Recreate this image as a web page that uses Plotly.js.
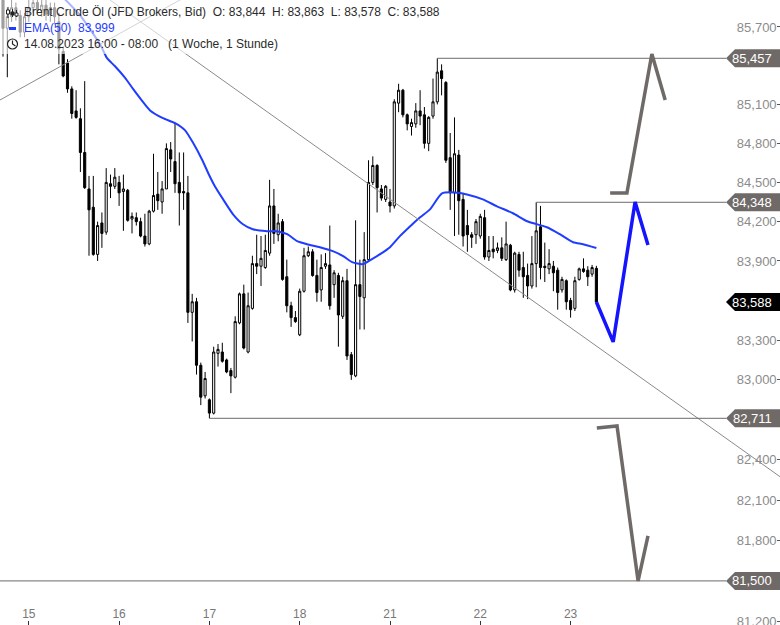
<!DOCTYPE html>
<html>
<head>
<meta charset="utf-8">
<script src="https://cdn.plot.ly/plotly-3.0.1.min.js"></script>
<style>
html,body{margin:0;padding:0;background:#fff;}
#chart{width:780px;height:625px;}
</style>
</head>
<body>
<div id="chart"></div>
<script>
// ---------- DATA ----------
const opens = [85.97,85.69,85.78,85.85,85.79,85.66,85.78,85.85,85.89,85.83,
85.87,85.80,85.85,85.74,85.51,85.42,85.22,85.05,84.99,84.73,
84.45,84.31,83.95,84.19,84.12,84.49,84.47,84.50,84.43,84.44,
84.22,84.23,84.20,84.09,84.03,84.28,84.41,84.35,84.45,84.75,
84.66,84.50,84.43,84.42,83.51,83.59,83.11,82.88,82.85,82.75,
83.20,83.21,83.15,83.07,83.02,83.43,83.65,83.21,83.54,83.88,
83.86,83.85,83.96,84.32,84.10,84.20,83.78,83.56,83.47,83.34,
83.67,83.94,83.97,83.79,83.68,83.86,83.87,83.72,83.79,83.48,
83.75,83.19,83.03,83.72,83.62,83.91,84.50,84.63,84.45,84.37,
84.35,84.32,85.11,85.21,85.02,84.93,84.95,85.05,85.02,84.80,
85.01,85.12,85.36,85.27,84.69,84.42,84.71,84.37,84.17,84.10,
84.10,84.09,84.23,83.93,83.99,83.98,84.00,83.91,84.02,83.68,
83.95,83.85,83.79,83.71,83.88,84.16,83.86,83.84,83.86,83.83,
83.68,83.75,83.60,83.54,83.76,83.84,83.83,83.80,83.844];
const highs = [86.08,85.85,85.93,85.89,85.83,85.81,85.91,85.95,85.93,85.91,
85.91,85.89,85.89,85.81,85.55,85.45,85.24,85.21,85.07,85.28,
84.55,84.55,84.20,84.27,84.61,84.56,84.61,84.55,84.56,84.45,
84.27,84.27,84.23,84.26,84.29,84.72,84.58,84.51,84.80,84.81,
84.96,84.73,84.73,84.55,83.65,83.62,83.13,83.06,82.86,83.25,
83.27,83.28,83.16,83.09,83.48,83.66,83.72,83.66,83.94,84.10,
84.09,84.10,84.52,84.45,84.26,84.22,83.91,83.59,83.52,83.69,
84.00,84.01,83.99,83.91,83.95,83.96,84.17,83.83,83.81,83.78,
83.84,83.21,84.21,83.91,84.12,84.67,84.70,84.64,84.48,84.48,
84.45,85.14,85.26,85.22,85.03,84.99,85.11,85.21,85.08,85.01,
85.30,85.457,85.41,85.28,84.88,85.00,84.75,84.42,84.29,84.12,
84.22,84.26,84.29,84.09,84.09,84.04,84.08,84.20,84.03,83.97,
83.97,83.97,83.88,84.09,84.348,84.32,84.04,83.99,83.90,83.85,
83.78,83.76,83.62,83.78,83.85,83.92,83.86,83.87,83.863];
const lows = [85.47,85.31,85.74,85.75,85.62,85.62,85.74,85.81,85.80,85.78,
85.75,85.74,85.72,85.41,85.31,85.19,84.99,84.99,84.58,84.45,
83.94,83.94,83.90,84.00,84.10,84.38,84.45,84.32,84.13,84.20,
84.11,84.17,84.08,84.01,84.02,84.27,84.29,84.26,84.45,84.58,
84.42,84.17,84.29,83.43,83.29,83.04,82.81,82.86,82.711,82.74,
83.10,83.13,83.05,82.90,83.01,83.42,83.23,83.20,83.53,83.80,
83.71,83.84,83.94,84.03,84.05,83.75,83.51,83.40,83.43,83.33,
83.66,83.93,83.78,83.59,83.59,83.84,83.53,83.62,83.25,83.46,
83.15,83.00,83.02,83.38,83.38,83.90,84.48,84.27,84.36,84.35,
84.27,84.30,85.04,85.00,84.90,84.86,84.92,84.94,84.76,84.74,
84.99,85.10,85.17,84.65,84.29,84.09,84.10,84.01,83.97,84.00,
84.03,84.07,83.91,83.90,83.92,83.96,83.90,83.90,83.67,83.66,
83.78,83.62,83.61,83.69,83.70,83.76,83.74,83.80,83.67,83.53,
83.66,83.53,83.47,83.52,83.75,83.81,83.71,83.78,83.578];
const closes = [85.69,85.78,85.85,85.80,85.66,85.78,85.85,85.89,85.83,85.87,
85.80,85.85,85.78,85.53,85.32,85.22,85.03,85.00,84.73,84.46,
84.29,83.95,84.17,84.11,84.50,84.47,84.54,84.42,84.45,84.21,
84.24,84.20,84.09,84.03,84.28,84.40,84.36,84.45,84.76,84.68,
84.49,84.42,84.42,83.51,83.59,83.11,82.87,83.01,82.75,83.21,
83.23,83.14,83.06,83.03,83.44,83.65,83.24,83.56,83.88,83.86,
83.92,83.98,84.32,84.11,84.19,83.76,83.56,83.47,83.44,83.67,
83.94,83.97,83.79,83.66,83.85,83.88,83.56,83.81,83.49,83.75,
83.18,83.04,83.72,83.63,83.91,84.50,84.63,84.46,84.38,84.47,
84.32,85.12,85.21,85.02,84.95,84.96,85.05,85.01,84.80,85.00,
85.12,85.35,85.30,84.67,84.42,84.72,84.36,84.09,84.10,84.08,
84.20,84.24,83.93,83.98,83.97,84.00,83.92,84.03,83.68,83.96,
83.83,83.78,83.71,83.88,84.13,83.85,83.85,83.88,83.81,83.66,
83.76,83.59,83.53,83.75,83.84,83.82,83.78,83.85,83.588];

// EMA(50) (bar index, value)
const emaIdx = [14,17.9,22.6,24.2,26,28.4,30.2,32.3,34.2,37.2,40,42.3,44.2,46.3,48.1,49.3,51.2,53.5,55.8,58.1,
61.4,63.7,66.1,68.4,70.7,73.7,76.7,79.1,81.2,83.7,85.8,87.7,90,92.3,94.7,97,99.3,102.1,105.1,107.9,
111.6,114.9,118.6,121.9,126.5,129.5,132.6,134.9,138];
const emaVal = [85.929,85.792,85.564,85.458,85.397,85.305,85.222,85.130,85.054,84.994,84.956,84.902,84.804,84.674,84.545,84.469,84.370,84.256,84.180,84.142,
84.127,84.127,84.104,84.051,84.028,84.005,83.975,83.937,83.891,83.876,83.914,83.952,84.005,84.089,84.165,84.233,84.294,84.416,84.423,84.408,
84.370,84.317,84.264,84.203,84.157,84.104,84.043,84.028,83.999];

// day tick labels
const dayTickIdx = [6,27,48,69,90,111,132];
const dayLabels = ['15','16','17','18','21','22','23'];

// price-axis ticks (log scale; ticks hidden under the price tags are left out)
const priceTicks = [81.2,81.8,82.1,82.4,83.0,83.3,83.9,84.2,84.5,84.8,85.1,85.7];

// horizontal levels (start bar index; null = from left edge)
const levelVals = [85.457, 84.348, 82.711, 81.500];
const levelStart = [101, 124, 48, null];

// right-hand price tags
const tagVals = [85.457, 84.348, 83.588, 82.711, 81.500];
const tagDark = [false, false, true, false, false];

// trend lines (bar index, value)
const trendUpIdx = [-5, 60], trendUpVal = [85.055, 86.262];
const trendDnIdx = [20, 185], trendDnVal = [86.027, 82.176];

// forecast zig-zags
const fcGrayUpIdx = [141.2,145.1,150.9,154.0], fcGrayUpVal = [84.419,84.419,85.490,85.134];
const fcBlueIdx = [138,141.9,147.0,150.0], fcBlueVal = [83.588,83.286,84.350,84.022];
const fcGrayDnIdx = [138.1,142.8,147.7,150.0], fcGrayDnVal = [82.639,82.654,81.50,81.833];

// legend texts
const titleText = 'Brent Crude Öl (JFD Brokers, Bid)';
const ohlcText = 'O: 83,844  H: 83,863  L: 83,578  C: 83,588';
const emaText = 'EMA(50)  83,999';
const periodText = '14.08.2023 16:00 - 08:00   (1 Woche, 1 Stunde)';

// ---------- CHART ----------
const W = 780, H = 625;
const xRange = [-0.698, 180.70];
const yRangeLog = [1.909420, 1.934044];
const idx = opens.map((_, i) => i);
const nb = s => s.replace(/ /g, '\u00a0');
const fmt = v => v.toFixed(3).replace('.', ',');
const px2x = px => px / W;          // paper x
const py2y = py => 1 - py / H;      // paper y
const idxPerPx = (xRange[1] - xRange[0]) / W;
const levelEnd = xRange[1] - 54 * idxPerPx;
const logPerPx = (yRangeLog[1] - yRangeLog[0]) / H;

const traces = [];
traces.push({
  type: 'candlestick', x: idx, open: opens, high: highs, low: lows, close: closes,
  increasing: {line: {color: '#000', width: 1}, fillcolor: '#fff'},
  decreasing: {line: {color: '#000', width: 1}, fillcolor: '#000'},
  whiskerwidth: 0, hoverinfo: 'skip', showlegend: false
});
traces.push({
  type: 'scatter', mode: 'lines', x: emaIdx, y: emaVal,
  line: {color: '#1f3cff', width: 2, shape: 'spline', smoothing: 0.6}, hoverinfo: 'skip'
});
[[trendUpIdx, trendUpVal], [trendDnIdx, trendDnVal]].forEach(([xx, yy]) => {
  traces.push({type: 'scatter', mode: 'lines', x: xx, y: yy,
    line: {color: '#8a8a8a', width: 1}, hoverinfo: 'skip'});
});
levelVals.forEach((v, k) => {
  const s = levelStart[k] === null ? xRange[0] : levelStart[k];
  traces.push({type: 'scatter', mode: 'lines', x: [s, levelEnd], y: [v, v],
    line: {color: '#6f6a67', width: 1}, hoverinfo: 'skip'});
});
traces.push({type: 'scatter', mode: 'lines', x: fcGrayUpIdx, y: fcGrayUpVal,
  line: {color: '#6f6a67', width: 3.5}, hoverinfo: 'skip'});
traces.push({type: 'scatter', mode: 'lines', x: fcGrayDnIdx, y: fcGrayDnVal,
  line: {color: '#6f6a67', width: 3.5}, hoverinfo: 'skip'});
traces.push({type: 'scatter', mode: 'lines', x: fcBlueIdx, y: fcBlueVal,
  line: {color: '#1414ff', width: 3.5}, hoverinfo: 'skip'});

const shapes = [];
const annotations = [];

// legend fade
shapes.push({type: 'rect', xref: 'paper', yref: 'paper', x0: 0, x1: px2x(288), y0: py2y(54), y1: 1,
  fillcolor: 'rgba(255,255,255,0.62)', line: {width: 0}, layer: 'above'});

// price tags (drawn in paper space at the tag value's position)
const valToPy = v => (yRangeLog[1] - Math.log10(v)) / logPerPx;
tagVals.forEach((v, k) => {
  const cy = valToPy(v);
  const t = py2y(cy - 9), b = py2y(cy + 9), m = py2y(cy);
  const xa = px2x(726), xb = px2x(735), xc = 1;
  shapes.push({type: 'path', xref: 'paper', yref: 'paper', layer: 'above',
    path: `M ${xa},${m} L ${xb},${t} L ${xc},${t} L ${xc},${b} L ${xb},${b} Z`,
    fillcolor: tagDark[k] ? '#000' : '#6f6a67', line: {width: 0}});
  annotations.push({xref: 'paper', yref: 'paper', x: px2x(774), y: m, xanchor: 'right', yanchor: 'middle',
    text: fmt(v), showarrow: false, font: {family: 'Liberation Sans, Arial, sans-serif', size: 13, color: '#fff'}});
});

// legend icons: candlestick glyph
const glyph = [[8, 7, 18, 10, 14, false], [12.5, 9, 17, 12, 15, true], [16.5, 10, 17, 13, 16, false]];
glyph.forEach(([cx, t, b, bt, bb, dark]) => {
  shapes.push({type: 'line', xref: 'paper', yref: 'paper', x0: px2x(cx), x1: px2x(cx), y0: py2y(t), y1: py2y(b),
    line: {color: '#222', width: 1}, layer: 'above'});
  shapes.push({type: 'rect', xref: 'paper', yref: 'paper', x0: px2x(cx - 1.5), x1: px2x(cx + 1.5), y0: py2y(bt), y1: py2y(bb),
    fillcolor: dark ? '#222' : '#fff', line: {color: '#222', width: 1}, layer: 'above'});
});
shapes.push({type: 'line', xref: 'paper', yref: 'paper', x0: px2x(9), x1: px2x(16), y0: py2y(28.5), y1: py2y(28.5),
  line: {color: '#1f3cff', width: 3}, layer: 'above'});
shapes.push({type: 'circle', xref: 'paper', yref: 'paper', x0: px2x(7.5), x1: px2x(17.5), y0: py2y(39), y1: py2y(49),
  line: {color: '#222', width: 1.2}, fillcolor: 'rgba(0,0,0,0)', layer: 'above'});
shapes.push({type: 'path', xref: 'paper', yref: 'paper', layer: 'above',
  path: `M ${px2x(12.5)},${py2y(40.5)} L ${px2x(12.5)},${py2y(44)} L ${px2x(15.5)},${py2y(46)}`,
  line: {color: '#222', width: 1.2}});

const lf = {family: 'Liberation Sans, Arial, sans-serif', size: 12, color: '#2b2b2b'};
annotations.push({xref: 'paper', yref: 'paper', x: px2x(22), y: py2y(12), xanchor: 'left', yanchor: 'middle',
  text: nb(titleText + '  ' + ohlcText), showarrow: false, font: lf});
annotations.push({xref: 'paper', yref: 'paper', x: px2x(22), y: py2y(28), xanchor: 'left', yanchor: 'middle',
  text: nb(emaText), showarrow: false, font: Object.assign({}, lf, {color: '#1f3cff'})});
annotations.push({xref: 'paper', yref: 'paper', x: px2x(22), y: py2y(44), xanchor: 'left', yanchor: 'middle',
  text: nb(periodText), showarrow: false, font: lf});

const layout = {
  width: W, height: H,
  margin: {l: 0, r: 0, t: 0, b: 0, pad: 0},
  paper_bgcolor: '#fff', plot_bgcolor: '#fff',
  separators: ',.',
  showlegend: false, hovermode: false,
  font: {family: 'Liberation Sans, Arial, sans-serif'},
  xaxis: {
    range: xRange, tickmode: 'array', tickvals: dayTickIdx, ticktext: dayLabels,
    ticks: 'inside', ticklen: 4, tickcolor: '#333', tickwidth: 1,
    ticklabelposition: 'inside', ticklabeloverflow: 'allow', tickfont: {size: 12, color: '#777'},
    showgrid: false, zeroline: false, showline: false, rangeslider: {visible: false}, fixedrange: true
  },
  yaxis: {
    type: 'log', range: yRangeLog, side: 'right',
    tickmode: 'array', tickvals: priceTicks, ticktext: priceTicks.map(fmt),
    ticks: 'inside', ticklen: 3, tickcolor: '#555', tickwidth: 1,
    ticklabelposition: 'inside', ticklabeloverflow: 'allow', tickfont: {size: 13, color: '#8c8c8c'},
    showgrid: false, zeroline: false, showline: false, fixedrange: true
  },
  shapes: shapes, annotations: annotations
};

Plotly.newPlot('chart', traces, layout, {staticPlot: true, displayModeBar: false});
</script>
</body>
</html>
